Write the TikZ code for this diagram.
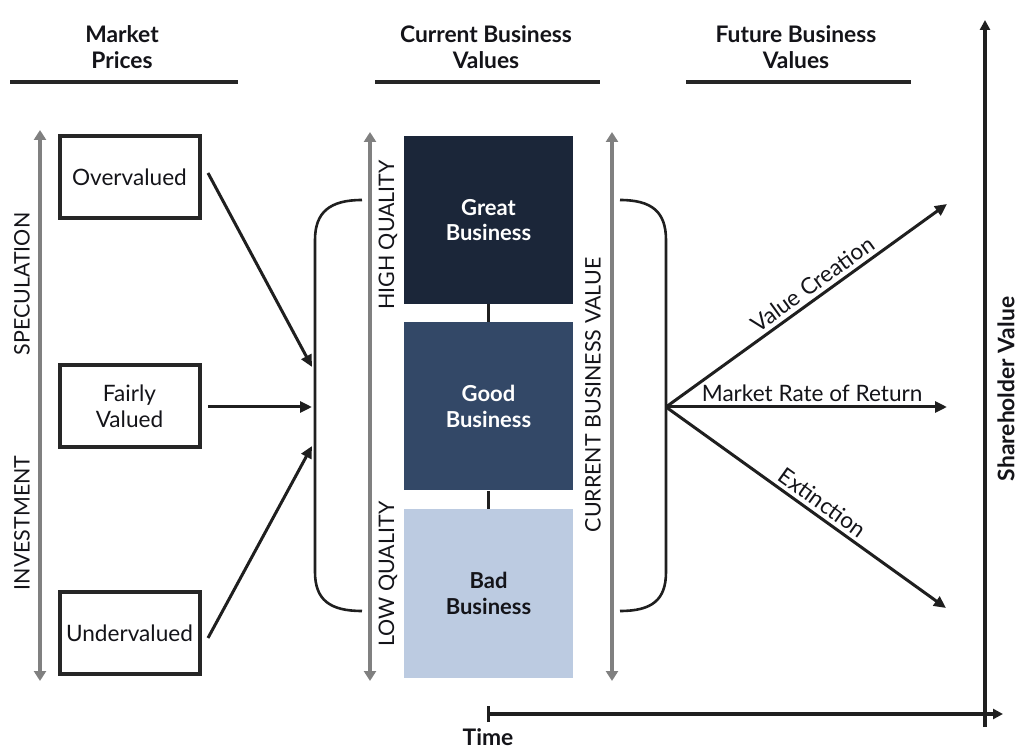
\documentclass[tikz,border=0pt]{standalone}
\usepackage{fontspec}
\setmainfont{Lato}
\usetikzlibrary{arrows.meta}
\definecolor{greatc}{RGB}{27,38,57}
\definecolor{goodc}{RGB}{51,72,103}
\definecolor{badc}{RGB}{188,203,225}
\definecolor{grayarr}{RGB}{128,128,128}
\definecolor{txt}{RGB}{20,20,25}
\tikzset{
  hdr/.style={font=\fontsize{11.4}{13}\selectfont\bfseries, text=txt, align=center},
  hline/.style={line width=2pt, black!85},
  pricebox/.style={draw=black!85, line width=2pt, minimum width=70pt, minimum height=41pt, font=\fontsize{11.3}{12.8}\selectfont, text=txt, align=center, inner sep=0pt},
  bizbox/.style={minimum width=84.5pt, minimum height=84pt, inner sep=0pt, align=center, font=\fontsize{11}{12.8}\selectfont\bfseries},
  garr/.style={line width=1.6pt, grayarr, {Triangle[length=5pt,width=6pt]}-{Triangle[length=5pt,width=6pt]}},
  arr/.style={line width=1.5pt, black!88, -{Triangle[length=6pt,width=5.5pt]}},
  brace/.style={line width=1.3pt, black!88},
  vlabel/.style={rotate=90, font=\fontsize{10.7}{12}\selectfont, text=txt, inner sep=0pt},
  lbl/.style={font=\fontsize{11.3}{12.8}\selectfont, text=txt},
}
\begin{document}
\begin{tikzpicture}[x=0.5pt,y=-0.5pt]
\useasboundingbox (0,0) rectangle (1024,754);
% headers
\node[hdr] (h1) at (122,47) {Market\\Prices};
\node[hdr] (h2) at (486,47) {Current Business\\Values};
\node[hdr] (h3) at (796,47) {Future Business\\Values};
\coordinate (u1a) at (10,82); \coordinate (u1b) at (238,82);
\coordinate (u2a) at (375,82); \coordinate (u2b) at (600,82);
\coordinate (u3a) at (686,82); \coordinate (u3b) at (911,82);
\draw[hline] (u1a) -- (u1b);
\draw[hline] (u2a) -- (u2b);
\draw[hline] (u3a) -- (u3b);
% left gray arrow
\coordinate (g1t) at (40,130); \coordinate (g1b) at (40,681);
\draw[garr] (g1b) -- (g1t);
\node[vlabel] (spec) at (22,284) {SPECULATION};
\node[vlabel] (inv) at (22,523) {INVESTMENT};
% price boxes
\node[pricebox] (over) at (129.5,177) {Overvalued};
\node[pricebox] (fair) at (129.5,406.5) {Fairly\\Valued};
\node[pricebox] (under) at (129.5,633) {Undervalued};
% left brace
\coordinate (lbt) at (362,200); \coordinate (lbb) at (362,611);
\coordinate (lb1) at (312,367); \coordinate (lb2) at (312,407); \coordinate (lb3) at (312,446);
\draw[brace] (lbt) .. controls (330,200) and (315,212) .. (315,240) -- (315,572) .. controls (315,600) and (330,611) .. (lbb);
\coordinate (o1) at (208,173); \coordinate (f1) at (208,407); \coordinate (un1) at (208,638);
\draw[arr] (o1) -- (lb1);
\draw[arr] (f1) -- (lb2);
\draw[arr] (un1) -- (lb3);
% middle gray arrows
\coordinate (g2t) at (370,132); \coordinate (g2b) at (370,681);
\coordinate (g3t) at (612,132); \coordinate (g3b) at (612,681);
\draw[garr] (g2b) -- (g2t);
\draw[garr] (g3b) -- (g3t);
\node[vlabel] (hq) at (388,235) {HIGH QUALITY};
\node[vlabel] (lq) at (388,574) {LOW QUALITY};
\node[vlabel] (cbv) at (593,395) {CURRENT BUSINESS VALUE};
% business boxes
\node[bizbox, fill=greatc, text=white] (great) at (488.5,220) {Great\\Business};
\node[bizbox, fill=goodc, text=white] (good) at (488.5,406.5) {Good\\Business};
\node[bizbox, fill=badc, text=txt] (bad) at (488.5,593.5) {Bad\\Business};
\draw[line width=1.6pt, black!88] (great.south) -- (good.north);
\draw[line width=1.6pt, black!88] (good.south) -- (bad.north);
% right brace
\coordinate (rbt) at (620,200); \coordinate (rbb) at (620,611);
\coordinate (src) at (666,407);
\draw[brace] (rbt) .. controls (652,200) and (666,212) .. (666,240) -- (666,572) .. controls (666,600) and (652,611) .. (rbb);
\coordinate (vc) at (947,204);
\coordinate (mr) at (947,407);
\coordinate (ex) at (946,608);
\draw[arr] (src) -- node[lbl, sloped, above, pos=0.55, inner sep=2pt] {Value Creation} (vc);
\draw[arr] (src) -- node[lbl, above, pos=0.52, inner sep=2pt] {Market Rate of Return} (mr);
\draw[arr] (src) -- node[lbl, sloped, above, pos=0.53, inner sep=2pt] {Extinction} (ex);
% axes
\coordinate (xa0) at (487,714); \coordinate (xa1) at (1003,714);
\coordinate (ya0) at (985,727); \coordinate (ya1) at (985,20);
\draw[line width=1.6pt, black!88, {Bar[width=8pt]}-{Triangle[length=5pt,width=5pt]}] (xa0) -- (xa1);
\draw[line width=1.6pt, black!88, -{Triangle[length=5pt,width=5pt]}] (ya0) -- (ya1);
\node[hdr] (time) at (488,737) {Time};
\node[hdr, rotate=90] (shv) at (1006,389) {Shareholder Value};
\end{tikzpicture}
\end{document}
